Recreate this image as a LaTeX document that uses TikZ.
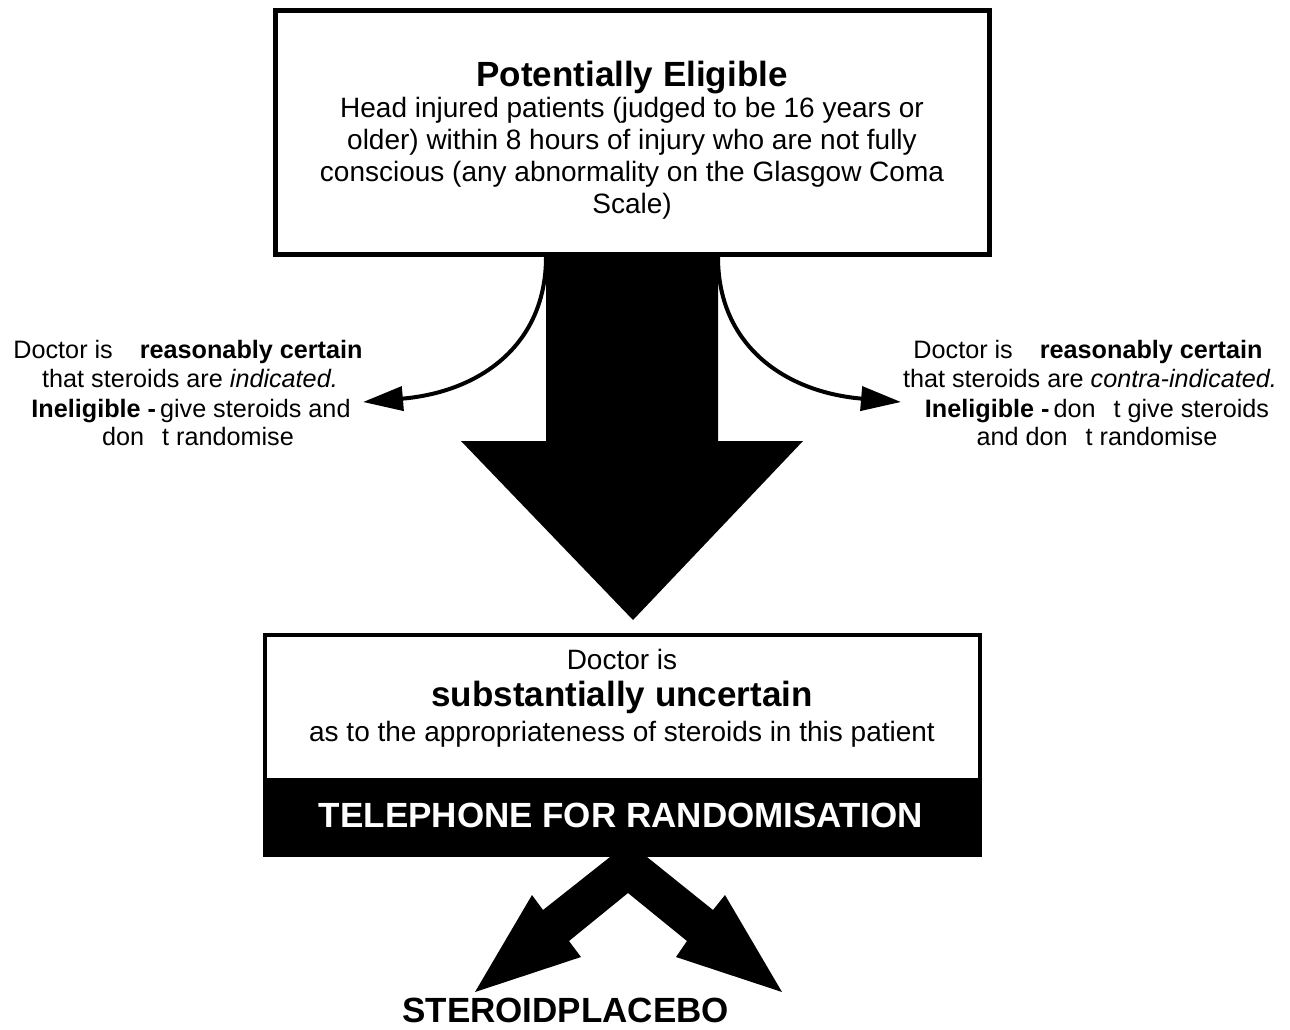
\documentclass[tikz,border=0pt]{standalone}
\usepackage{fontspec}
\setmainfont{Liberation Sans}
\usetikzlibrary{arrows.meta}
\begin{document}
\begin{tikzpicture}[x=0.5pt,y=-0.5pt,
 bodytxt/.style={font=\fontsize{14}{16}\selectfont,inner sep=0pt,anchor=base},
 sidetxt/.style={font=\fontsize{12.6}{15}\selectfont,inner sep=0pt,anchor=base},
 bigtxt/.style={font=\fontsize{17.5}{20}\selectfont\bfseries,inner sep=0pt,anchor=base},
 curvearrow/.style={line width=2pt,-{Triangle[length=20pt,width=12pt]}},
 blackshape/.style={fill=black,draw=none},
 ]
\useasboundingbox[fill=white] (0,0) rectangle (1290,1029);

% top box
\node[draw,line width=2.5pt,minimum width=357pt,minimum height=122pt,inner sep=0pt] (top) at (632.5,132.5) {};
\node[bigtxt] (title) at (632,86) {Potentially Eligible};
\node[bodytxt] (tl1) at (632,117) {Head injured patients (judged to be 16 years or};
\node[bodytxt] (tl2) at (632,149) {older) within 8 hours of injury who are not fully};
\node[bodytxt] (tl3) at (632,181) {conscious (any abnormality on the Glasgow Coma};
\node[bodytxt] (tl4) at (632,213) {Scale)};

% curved arrows
\coordinate (ls) at (546,257);
\coordinate (lt) at (363,402);
\coordinate (rs) at (718,257);
\coordinate (rt) at (901,402);
\draw[curvearrow] (ls) .. controls (546,345) and (480,392) .. (lt);
\draw[curvearrow] (rs) .. controls (718,345) and (784,392) .. (rt);

% big arrow
\fill[blackshape] (546,257) -- (718,257) -- (718,441) -- (803,441) -- (633,620) -- (461,441) -- (546,441) -- cycle;

% left text
\node[sidetxt] (l1) at (188,358) {Doctor is\hspace{10pt} \textbf{reasonably certain}};
\node[sidetxt] (l2) at (190,387) {that steroids are \textit{indicated.}};
\node[sidetxt] (l3) at (191,417) {\textbf{Ineligible -}\hspace{2pt}give steroids and};
\node[sidetxt] (l4) at (198,445) {don\hspace{9pt}t randomise};

% right text
\node[sidetxt] (r1) at (1088,358) {Doctor is\hspace{10pt} \textbf{reasonably certain}};
\node[sidetxt] (r2) at (1090,387) {that steroids are \textit{contra-indicated.}};
\node[sidetxt] (r3) at (1097,417) {\textbf{Ineligible -}\hspace{2pt}don\hspace{9pt}t give steroids};
\node[sidetxt] (r4) at (1097,445) {and don\hspace{9pt}t randomise};

% bottom box
\node[draw,line width=2pt,minimum width=357.5pt,minimum height=110pt,inner sep=0pt] (bot) at (622.5,745) {};
\node[fill=black,minimum width=359.5pt,minimum height=39.5pt,inner sep=0pt] (bar) at (622.5,817.5) {};
\node[bodytxt] (b1) at (622,669) {Doctor is};
\node[bigtxt] (b2) at (622,706) {substantially uncertain};
\node[bodytxt] (b3) at (622,741) {as to the appropriateness of steroids in this patient};
\node[bigtxt,text=white] (b4) at (621,827) {TELEPHONE FOR RANDOMISATION};

% split arrows
\fill[blackshape] (610,857) -- (543,910) -- (532,895) -- (475,992) -- (581,957) -- (569,941) -- (628,893)
  -- (687,941) -- (676,957) -- (782,992) -- (725,895) -- (713,910) -- (647,857) -- cycle;

\node[bigtxt,anchor=base west] (lab) at (402,1022) {STEROIDPLACEBO};
\end{tikzpicture}
\end{document}
